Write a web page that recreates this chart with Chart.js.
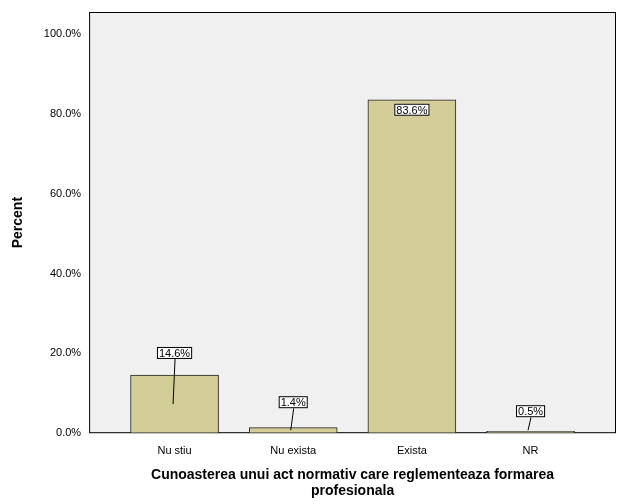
<!DOCTYPE html>
<html><head><meta charset="utf-8">
<script src="https://cdn.jsdelivr.net/npm/chart.js@4"></script>
<style>html,body{margin:0;padding:0;background:#fff}#w{width:629px;height:504px}</style>
</head><body><div id="w"><canvas id="c" width="629" height="504"></canvas></div>
<script>
const categories = ["Nu stiu","Nu exista","Exista","NR"];
const percents = [14.6, 1.4, 83.6, 0.5];
const yTicks = [0,20,40,60,80,100];
const labelShift = [-22, -22, 10, -22];

const bgPlugin = {
  id:'bg',
  beforeDraw(ch){
    const a=ch.chartArea,c=ch.ctx;
    c.save();c.fillStyle='#f0f0f0';c.fillRect(a.left,a.top,a.right-a.left,a.bottom-a.top);
    c.strokeStyle='#000';c.lineWidth=1;c.strokeRect(a.left+0.5,a.top+0.5,a.right-a.left-1,a.bottom-a.top-1);c.restore();
  },
  afterDatasetsDraw(ch){
    const c=ch.ctx,xs=ch.scales.x,ys=ch.scales.y;
    c.save();c.font='11px Arial, "Liberation Sans"';c.textAlign='center';c.textBaseline='middle';
    percents.forEach((v,i)=>{
      const x=xs.getPixelForValue(i), yTop=ys.getPixelForValue(v);
      const t=v.toFixed(1)+'%';
      let cy = yTop+labelShift[i];
      if(i===1) cy = ys.getPixelForValue(0)-31;
      if(i===3) cy = ys.getPixelForValue(0)-22;
      const w=c.measureText(t).width+4,h=12;
      if(labelShift[i]<0){
        c.strokeStyle='#000';c.lineWidth=1;c.beginPath();
        c.moveTo(x+0.5,cy+h/2);
        const endY = i===0 ? ys.getPixelForValue(v/2) : ys.getPixelForValue(0)-3;
        c.lineTo(x-(i===0?2:3)+0.5,endY);c.stroke();
      }
      c.fillStyle='#fff';c.fillRect(x-w/2,cy-h/2,w,h);
      c.strokeStyle='#000';c.strokeRect(x-w/2+0.5,cy-h/2+0.5,w-1,h-1);
      c.fillStyle='#000';c.fillText(t,x,cy+1);
    });
    c.restore();
  }
};

new Chart(document.getElementById('c'),{
  type:'bar',
  data:{datasets:[{data:percents.map((v,i)=>({x:i,y:v})),backgroundColor:'#d3ce97',borderColor:'#222',borderWidth:1,borderSkipped:false,barThickness:88}]},
  options:{
    responsive:false,animation:false,
    layout:{padding:{left:6,right:13,top:12,bottom:4}},
    plugins:{legend:{display:false},tooltip:{enabled:false}},
    scales:{
      x:{type:'linear',offset:false,min:-0.72,max:3.72,grid:{display:false,drawTicks:true},border:{display:false},
        afterBuildTicks(s){s.ticks=categories.map((_,i)=>({value:i}));},
        ticks:{callback:(v)=>categories[v]??'',color:'#000',font:{size:11,family:'Arial, "Liberation Sans"'},autoSkip:false,maxRotation:0},
        title:{display:true,text:['Cunoasterea unui act normativ care reglementeaza formarea','profesionala'],color:'#000',font:{size:14,weight:'bold',family:'Arial, "Liberation Sans"'},padding:{top:6,bottom:0}}},
      y:{min:0,max:105.6,grid:{display:false,drawTicks:true,tickLength:5,color:'#000'},border:{display:false},
        afterBuildTicks(s){s.ticks=yTicks.map(v=>({value:v}));},
        ticks:{callback:v=>v.toFixed(1)+'%',color:'#000',font:{size:11,family:'Arial, "Liberation Sans"'}},
        title:{display:true,text:'Percent',color:'#000',font:{size:14,weight:'bold',family:'Arial, "Liberation Sans"'},padding:{bottom:14}}}
    }
  },
  plugins:[bgPlugin]
});
</script></body></html>
